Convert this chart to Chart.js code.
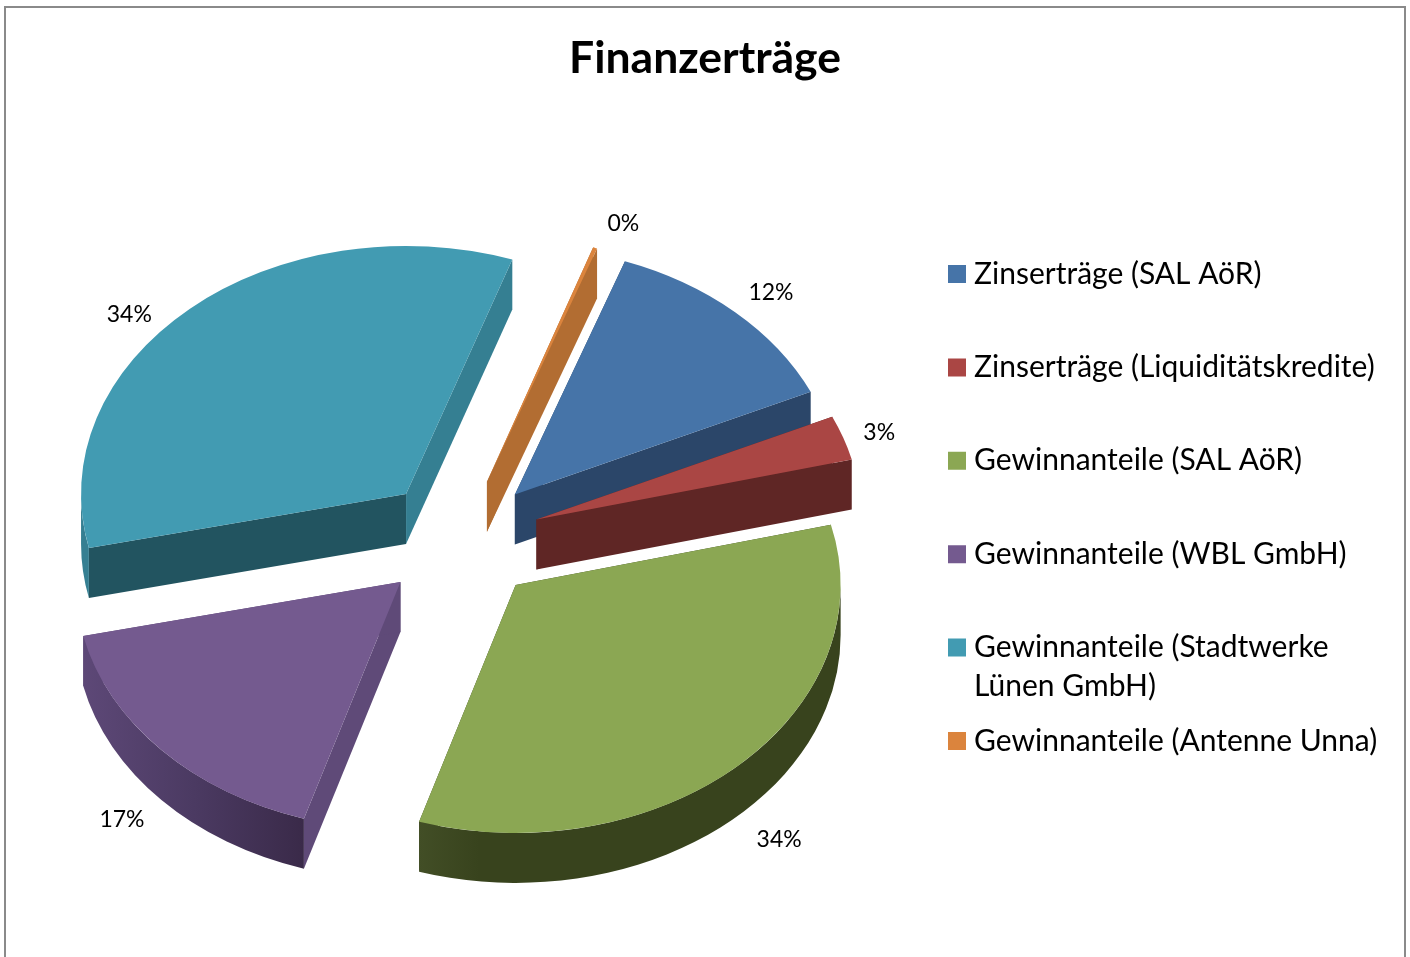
<!DOCTYPE html>
<html>
<head>
<meta charset="utf-8">
<title>Finanzerträge</title>
<script src="https://cdn.jsdelivr.net/npm/chart.js@4"></script>
<style>
  html, body { margin: 0; padding: 0; background: #fff; overflow: hidden; }
  canvas { display: block; }
</style>
</head>
<body>
<canvas id="pieChart" width="1410" height="957"></canvas>
<script>
const categories = [
    'Zinserträge (SAL AöR)',
    'Zinserträge (Liquiditätskredite)',
    'Gewinnanteile (SAL AöR)',
    'Gewinnanteile (WBL GmbH)',
    ['Gewinnanteile (Stadtwerke', 'Lünen GmbH)'],
    'Gewinnanteile (Antenne Unna)'
];
const shares = [12.7, 2.9, 33.7, 16.7, 33.8, 0.2];
const shareLabels = ['12%', '3%', '34%', '17%', '34%', '0%'];

const topColors = ['#4674a8', '#aa4644', '#8ba753', '#745a8f', '#429bb2', '#db843d'];
// cut faces of each slice: [start edge, end edge]
const cutColors = [
    ['#2b4669', '#2b4669'],
    ['#5f2625', '#5f2625'],
    ['#38431d', '#38431d'],
    ['#5f4a78', '#5f4a78'],
    ['#225460', '#357f92'],
    ['#b26d32', '#b26d32']
];
const rimColors = [
    ['#2b4669', '#2b4669'],
    ['#5f2625', '#5f2625'],
    ['#424e26', '#38431d', '#38431d', '#38431d', '#38431d', '#38431d', '#38431d', '#38431d'],
    ['#5d4877', '#4b3a62', '#3a2a49'],
    ['#357f92', '#357f92'],
    ['#b26d32', '#b26d32']
];
const labelNudges = [[5, 6], [-7, 6], [9, -1], [-6, -4], [-30, 32], [13, 8]];

const TILT = 0.763;
const EXPLODE = 81;
const DEPTH = 50;
const LEGEND_FONT = 30;
const LEGEND_GAP = 63.4;
const FONT = 'Lato, Carlito, Calibri, sans-serif';

function apexOf(arc) {
    const mid = (arc.startAngle + arc.endAngle) / 2;
    return {
        mid: mid,
        x: arc.x + Math.cos(mid) * EXPLODE,
        y: arc.y + Math.sin(mid) * EXPLODE * TILT
    };
}

function drawSideFaces(ctx, arc, i) {
    const apex = apexOf(arc);
    const r = arc.outerRadius;
    const rimPoint = a => ({ x: apex.x + r * Math.cos(a), y: apex.y + r * TILT * Math.sin(a) });

    [arc.startAngle, arc.endAngle].forEach((a, k) => {
        const p = rimPoint(a);
        ctx.fillStyle = cutColors[i][k];
        ctx.beginPath();
        ctx.moveTo(apex.x, apex.y);
        ctx.lineTo(p.x, p.y);
        ctx.lineTo(p.x, p.y + DEPTH);
        ctx.lineTo(apex.x, apex.y + DEPTH);
        ctx.closePath();
        ctx.fill();
    });

    // outer wall, only the part facing the viewer
    const a1 = Math.max(arc.startAngle, 0);
    const a2 = Math.min(arc.endAngle, Math.PI);
    if (a1 < a2) {
        const left = rimPoint(a2).x;
        const right = rimPoint(a1).x;
        const grad = ctx.createLinearGradient(left, 0, right, 0);
        rimColors[i].forEach((c, n, all) => grad.addColorStop(n / (all.length - 1), c));
        ctx.fillStyle = grad;
        ctx.beginPath();
        ctx.ellipse(apex.x, apex.y, r, r * TILT, 0, a1, a2);
        ctx.ellipse(apex.x, apex.y + DEPTH, r, r * TILT, 0, a2, a1, true);
        ctx.closePath();
        ctx.fill();
    }
}

const explodedPie = {
    id: 'explodedPie',
    beforeDraw(chart) {
        const ctx = chart.ctx;
        ctx.save();
        ctx.strokeStyle = '#8a8a8a';
        ctx.lineWidth = 2;
        ctx.beginPath();
        ctx.moveTo(5, 957);
        ctx.lineTo(5, 7);
        ctx.lineTo(1405, 7);
        ctx.lineTo(1405, 957);
        ctx.stroke();
        ctx.restore();
    },
    afterLayout(chart) {
        chart.legend.left = 891.6;
        chart.legend.top = 195.6;
    },
    beforeDatasetDraw(chart) {
        const ctx = chart.ctx;
        const arcs = chart.getDatasetMeta(0).data;
        arcs.forEach((arc, i) => {
            const apex = apexOf(arc);
            drawSideFaces(ctx, arc, i);
            ctx.save();
            ctx.translate(apex.x, apex.y);
            ctx.scale(1, TILT);
            ctx.translate(-arc.x, -arc.y);
            arc.draw(ctx);
            ctx.restore();
        });
        return false;
    },
    afterDraw(chart) {
        const ctx = chart.ctx;
        const arcs = chart.getDatasetMeta(0).data;
        ctx.save();
        ctx.fillStyle = '#000';
        ctx.font = '23px ' + FONT;
        ctx.textAlign = 'center';
        ctx.textBaseline = 'middle';
        arcs.forEach((arc, i) => {
            const apex = apexOf(arc);
            const r = arc.outerRadius * 1.14;
            const front = Math.sin(apex.mid) > 0.3 ? DEPTH : 0;
            ctx.fillText(
                shareLabels[i],
                apex.x + r * Math.cos(apex.mid) + labelNudges[i][0],
                apex.y + r * TILT * Math.sin(apex.mid) + front + labelNudges[i][1]
            );
        });

        // second line of wrapped legend entries
        const legend = chart.legend;
        ctx.font = LEGEND_FONT + 'px ' + FONT;
        ctx.textAlign = 'left';
        categories.forEach((name, i) => {
            if (!Array.isArray(name)) return;
            const x = legend.left + LEGEND_GAP + 4 + LEGEND_FONT / 2;
            const y = legend.top + LEGEND_GAP + i * (LEGEND_FONT + LEGEND_GAP) + LEGEND_FONT / 2 + 39;
            ctx.fillText(name[1], x, y);
        });
        ctx.restore();
    }
};

new Chart(document.getElementById('pieChart').getContext('2d'), {
    type: 'pie',
    data: {
        labels: categories,
        datasets: [{
            data: shares,
            backgroundColor: topColors,
            borderWidth: 0,
            hoverOffset: 0
        }]
    },
    plugins: [explodedPie],
    options: {
        responsive: false,
        animation: false,
        events: [],
        rotation: 19.8,
        layout: { padding: { left: 0, right: 0, top: 0, bottom: 92 } },
        plugins: {
            title: {
                display: true,
                text: 'Finanzerträge',
                color: '#000',
                font: { family: FONT, size: 44.5, weight: 'bold', lineHeight: 1.2 },
                padding: { top: 32.3, bottom: 129.3 }
            },
            legend: {
                display: true,
                position: 'right',
                align: 'start',
                maxWidth: 490,
                labels: {
                    color: '#000',
                    font: { family: FONT, size: LEGEND_FONT },
                    boxWidth: 4,
                    boxHeight: 4,
                    padding: LEGEND_GAP,
                    generateLabels(chart) {
                        return categories.map((name, i) => ({
                            text: Array.isArray(name) ? name[0] : name,
                            fillStyle: topColors[i],
                            strokeStyle: topColors[i],
                            lineWidth: 14,
                            hidden: false,
                            index: i
                        }));
                    }
                }
            },
            tooltip: { enabled: false }
        }
    }
});
</script>
</body>
</html>
